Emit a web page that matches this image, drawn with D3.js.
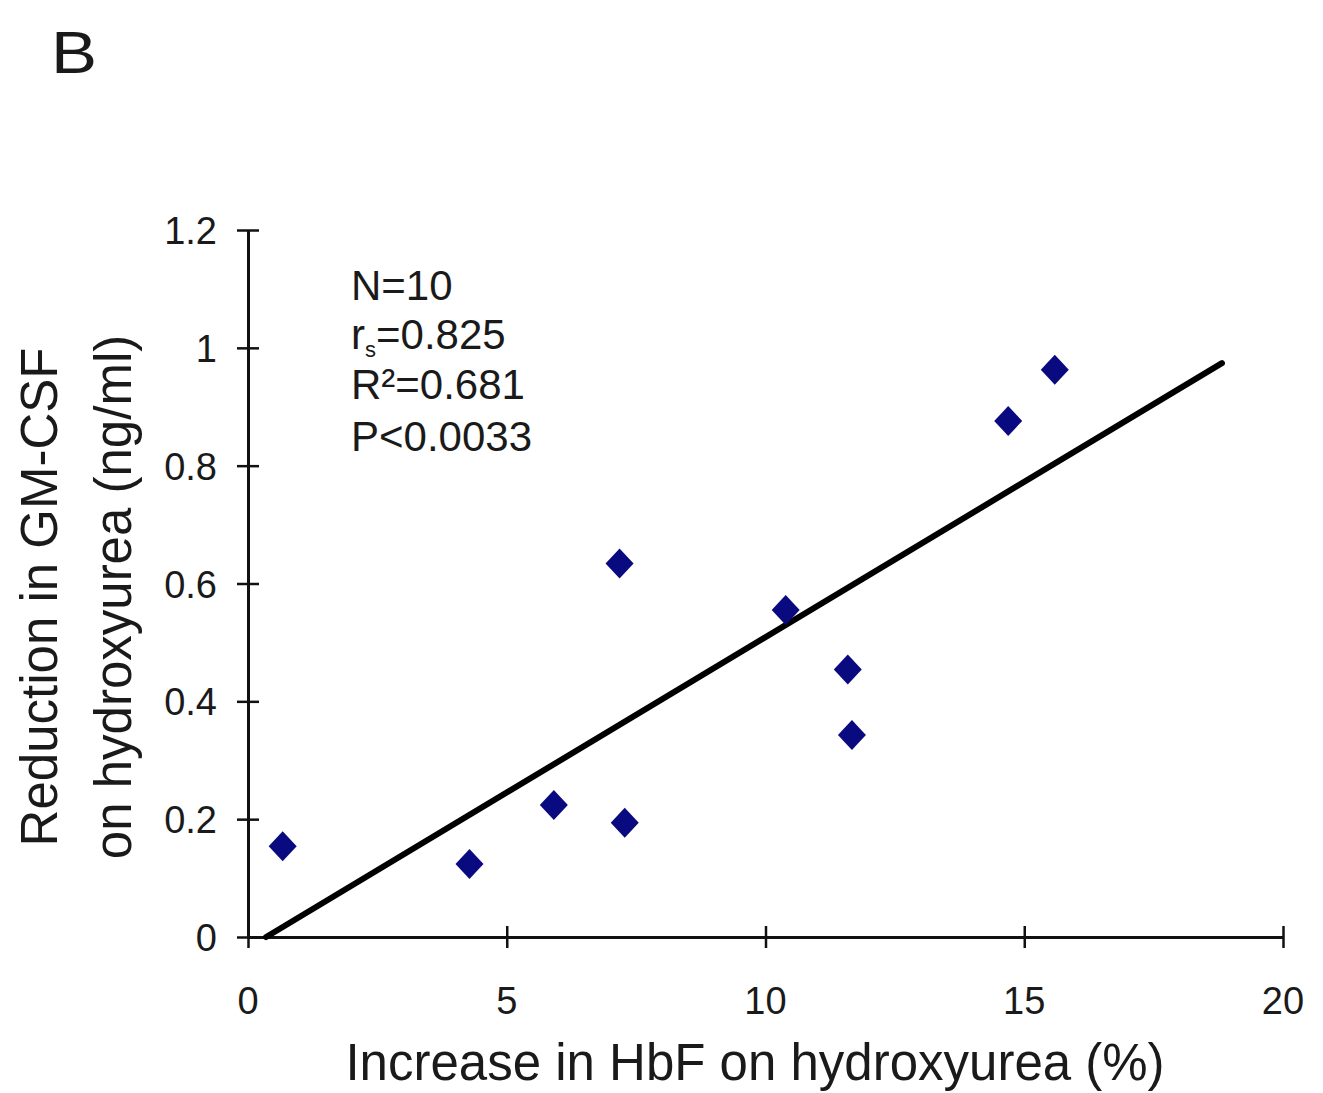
<!DOCTYPE html>
<html><head><meta charset="utf-8">
<script src="https://cdn.jsdelivr.net/npm/d3@7"></script>
<style>body{margin:0;background:#fff}text{font-family:"Liberation Sans",Arial,sans-serif;fill:#1a1a1a}</style>
</head><body>
<svg id="c" width="1323" height="1093"></svg>
<script>
const hbfIncrease = [0.67, 4.28, 5.91, 7.18, 7.28, 10.39, 11.59, 11.67, 14.69, 15.59];
const gmcsfReduction = [0.154, 0.124, 0.224, 0.634, 0.194, 0.555, 0.454, 0.343, 0.876, 0.963];
const fitLineX = [0.35, 18.82];
const fitLineY = [0.0, 0.974];
const xTicks = [0, 5, 10, 15, 20];
const yTicks = [0, 0.2, 0.4, 0.6, 0.8, 1, 1.2];
const statsLines = ["N=10", "r_s=0.825", "R²=0.681", "P<0.0033"];

const svg = d3.select("#c");
const x = d3.scaleLinear().domain([0, 20]).range([248, 1283]);
const y = d3.scaleLinear().domain([0, 1.2]).range([937, 230]);

function txt(g, s, px, py, size, anchor, sx) {
  return g.append("text").attr("transform", `translate(${px},${py}) scale(${sx || 1},1)`)
    .attr("text-anchor", anchor || "start").attr("font-size", size).text(s);
}

// Panel label
txt(svg, "B", 51, 73, 60, "start", 1.15);

// Axes
const xa = svg.append("g").attr("transform", `translate(0,${y(0)})`)
  .call(d3.axisBottom(x).tickValues(xTicks).tickSize(0).tickFormat(""));
xa.select(".domain").attr("stroke", "#111").attr("stroke-width", 3);
xa.selectAll(".tick line").attr("y1", -11).attr("y2", 11).attr("stroke", "#111").attr("stroke-width", 2.5);
xTicks.forEach(t => txt(svg, d3.format("")(t), x(t), 1014, 38, "middle"));

const ya = svg.append("g").attr("transform", `translate(${x(0)},0)`)
  .call(d3.axisLeft(y).tickValues(yTicks).tickSize(0).tickFormat(""));
ya.select(".domain").attr("stroke", "#111").attr("stroke-width", 3);
ya.selectAll(".tick line").attr("x1", -11).attr("x2", 11).attr("stroke", "#111").attr("stroke-width", 2.5);
yTicks.forEach(t => txt(svg, d3.format("")(t), 217, y(t) + 14, 38, "end"));

// Axis titles
txt(svg, "Increase in HbF on hydroxyurea (%)", 755, 1080, 51, "middle");
svg.append("text").attr("transform", `translate(57,597) rotate(-90)`)
  .attr("text-anchor", "middle").attr("font-size", 51).text("Reduction in GM-CSF");
svg.append("text").attr("transform", `translate(131,597) rotate(-90)`)
  .attr("text-anchor", "middle").attr("font-size", 51).text("on hydroxyurea (ng/ml)");

// Regression line
svg.append("line")
  .attr("x1", x(fitLineX[0])).attr("y1", y(fitLineY[0]))
  .attr("x2", x(fitLineX[1])).attr("y2", y(fitLineY[1]))
  .attr("stroke", "#000").attr("stroke-width", 6).attr("stroke-linecap", "round");

// Points
const pts = hbfIncrease.map((v, i) => [v, gmcsfReduction[i]]);
svg.append("g").selectAll("path").data(pts).join("path")
  .attr("d", d => { const cx = x(d[0]), cy = y(d[1]); return `M${cx},${cy-15}L${cx+14},${cy}L${cx},${cy+15}L${cx-14},${cy}Z`; })
  .attr("fill", "#0a0a80");

// Stats annotation
const st = svg.append("g");
const sy = [300, 349, 399, 451];
txt(st, statsLines[0], 351, sy[0], 42);
const r = st.append("text").attr("transform", `translate(351,${sy[1]})`).attr("font-size", 42);
r.append("tspan").text("r");
r.append("tspan").attr("font-size", 22).attr("dy", 8).text("s");
r.append("tspan").attr("dy", -8).text("=0.825");
txt(st, statsLines[2], 351, sy[2], 42);
txt(st, statsLines[3], 351, sy[3], 42);
</script>
</body></html>
